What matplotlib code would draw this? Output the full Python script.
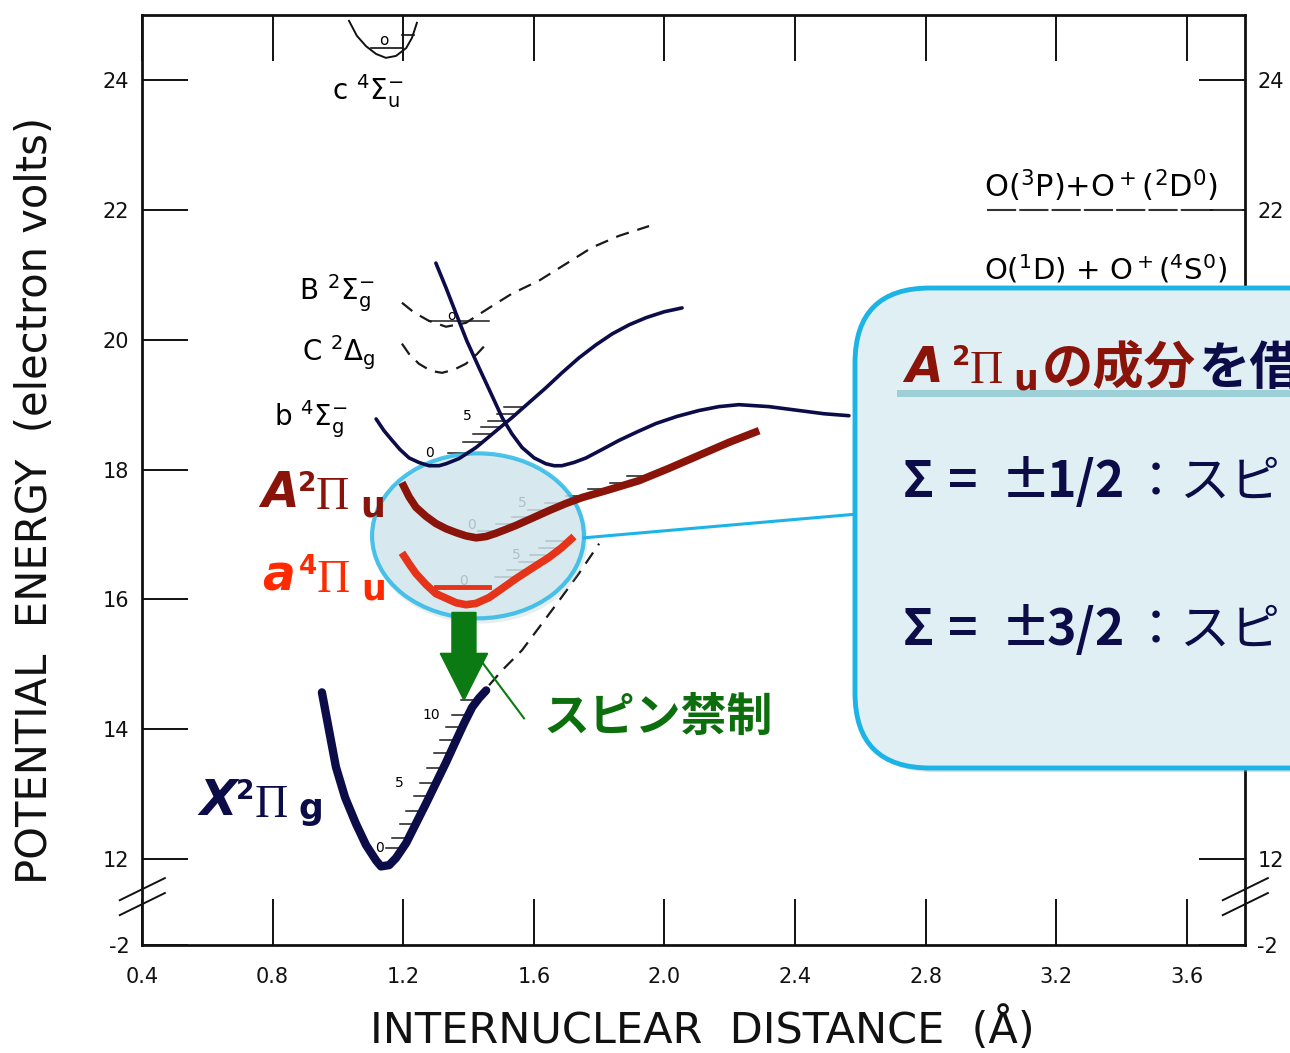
import numpy as np
import matplotlib.pyplot as plt
from matplotlib.patches import Ellipse, FancyBboxPatch, FancyArrow
from matplotlib.transforms import IdentityTransform

# O2+ potential curves: internuclear distance (A) vs potential energy (eV)
x_X = [0.951, 0.973, 0.994, 1.022, 1.055, 1.086, 1.117, 1.132, 1.157, 1.178,
       1.209, 1.239, 1.270, 1.300, 1.331, 1.362, 1.386, 1.411, 1.432, 1.454]
y_X = [14.57, 13.98, 13.42, 12.95, 12.55, 12.22, 11.98, 11.89, 11.91, 12.02,
       12.25, 12.55, 12.86, 13.17, 13.49, 13.83, 14.09, 14.34, 14.48, 14.60]

x_A = [1.196, 1.218, 1.239, 1.270, 1.300, 1.331, 1.362, 1.392, 1.423, 1.454, 1.484, 1.515,
       1.545, 1.594, 1.647, 1.699, 1.748, 1.830, 1.922, 2.014, 2.106, 2.198, 2.290]
y_A = [17.80, 17.58, 17.42, 17.28, 17.17, 17.09, 17.03, 16.98, 16.95, 16.97, 17.02, 17.08,
       17.14, 17.25, 17.37, 17.48, 17.57, 17.69, 17.83, 18.02, 18.22, 18.42, 18.60]

x_a = [1.196, 1.218, 1.239, 1.270, 1.300, 1.331, 1.362, 1.392, 1.423, 1.463, 1.503,
       1.545, 1.594, 1.647, 1.686, 1.723]
y_a = [16.72, 16.55, 16.40, 16.23, 16.09, 16.02, 15.95, 15.92, 15.94, 16.03, 16.17,
       16.32, 16.48, 16.65, 16.80, 16.97]

x_b = [1.117, 1.141, 1.166, 1.190, 1.218, 1.248, 1.279, 1.310, 1.331, 1.371, 1.423, 1.478,
       1.533, 1.585, 1.637, 1.686, 1.738, 1.790, 1.840, 1.892, 1.944, 1.999, 2.054]
y_b = [18.78, 18.60, 18.45, 18.31, 18.18, 18.11, 18.06, 18.06, 18.09, 18.17, 18.34, 18.57,
       18.80, 19.03, 19.26, 19.49, 19.72, 19.92, 20.09, 20.23, 20.34, 20.43, 20.49]

x_q = [1.300, 1.331, 1.362, 1.395, 1.432, 1.469, 1.503, 1.533, 1.564, 1.601, 1.637, 1.662,
       1.686, 1.723, 1.760, 1.809, 1.861, 1.916, 1.974, 2.039, 2.106, 2.167, 2.228, 2.320,
       2.412, 2.489, 2.565]
y_q = [21.18, 20.80, 20.40, 19.98, 19.57, 19.17, 18.80, 18.55, 18.34, 18.18, 18.09, 18.06,
       18.06, 18.11, 18.18, 18.31, 18.45, 18.58, 18.71, 18.82, 18.91, 18.97, 19.00, 18.97,
       18.91, 18.86, 18.83]

x_B = [1.196, 1.233, 1.279, 1.331, 1.392, 1.463, 1.533, 1.616, 1.699, 1.778, 1.861, 1.953]
y_B = [20.57, 20.42, 20.29, 20.20, 20.26, 20.49, 20.71, 20.91, 21.17, 21.42, 21.60, 21.75]

x_C = [1.196, 1.218, 1.248, 1.285, 1.319, 1.356, 1.392, 1.426, 1.463]
y_C = [19.94, 19.78, 19.63, 19.52, 19.49, 19.54, 19.63, 19.78, 19.98]

x_Xout = [1.463, 1.503, 1.564, 1.625, 1.677, 1.738, 1.800]
y_Xout = [14.68, 14.91, 15.22, 15.63, 15.98, 16.40, 16.86]

x_c = [1.034, 1.058, 1.086, 1.117, 1.147, 1.178, 1.209, 1.227, 1.242]
y_c = [24.91, 24.68, 24.52, 24.40, 24.34, 24.37, 24.49, 24.65, 24.88]

# vibrational levels (eV)
lev_X = [12.17, 12.32, 12.55, 12.75, 12.98, 13.18, 13.40, 13.63, 13.83, 14.03, 14.22, 14.45]
lev_b = [18.26, 18.42, 18.55, 18.65, 18.75, 18.86, 18.96]
lev_A = [17.05, 17.16, 17.27, 17.38, 17.49, 17.60, 17.70, 17.80, 17.90]
lev_a = [16.34, 16.46, 16.58, 16.69, 16.80, 16.90]
a_v0 = 16.20
B_v0 = 20.29
c_v0 = 24.49

# dissociation limit
limit_E = 22.0

x_ticks = [0.4, 0.8, 1.2, 1.6, 2.0, 2.4, 2.8, 3.2, 3.6]
x_tick_labels = ['0.4', '0.8', '1.2', '1.6', '2.0', '2.4', '2.8', '3.2', '3.6']
y_ticks = [12, 14, 16, 18, 20, 22, 24]
y_bottom = 10.68   # broken axis: the floor is -2 eV
y_bottom_label = '-2'
right_hidden = [14, 16, 18, 20]   # right-hand labels that sit under the note box

SCAN = ['DejaVu Sans']
JP = ['Noto Sans CJK JP', 'DejaVu Sans']
NAVY = '#0c0c48'
DARKRED = '#8a1409'
RED = '#e5341a'
GREEN = '#0b7a12'
CYAN = '#1cb4e6'
W, H = 1290, 1053


def fx(px):
    return px / W


def fy(py):
    return 1 - py / H


def draw_levels(ax, x, y, energies, length):
    i = int(np.argmin(y))
    ends = np.interp(energies, y[i:], x[i:])
    for e, x1 in zip(energies, ends):
        ax.plot([x1 - length, x1], [e, e], color='#1a1a1a', lw=1.1, zorder=2)


def term_label(ax, x, y, letter, mult, sym, sub, color, sub_dy=-9):
    # state term symbol built from pieces, offsets in pixels from the letter baseline
    parts = [
        (letter, (0, 0), dict(fontsize=35, fontweight='bold', fontstyle='italic',
                              family=['DejaVu Sans'])),
        (mult, (37, 16), dict(fontsize=19, fontweight='bold', family=['DejaVu Sans'])),
        (sym, (55, -2), dict(fontsize=33, family=['Liberation Serif'])),
        (sub, (99, sub_dy), dict(fontsize=25, fontweight='bold', family=['DejaVu Sans'])),
    ]
    for s, off, kw in parts:
        ax.annotate(s, (x, y), xytext=off, textcoords='offset pixels', ha='left',
                    va='baseline', color=color, zorder=6, annotation_clip=False, **kw)


def main():
    plt.rcParams['font.family'] = SCAN
    plt.rcParams['mathtext.fontset'] = 'dejavusans'

    fig = plt.figure(figsize=(12.9, 10.53), dpi=100)
    ax = fig.add_axes([fx(142), fy(945), (1245 - 142) / W, (945 - 15) / H])
    ax.set_xlim(0.4, 3.778)
    ax.set_ylim(y_bottom, 25.0)

    for sp in ax.spines.values():
        sp.set_linewidth(2.0)
        sp.set_color('#111111')
    ax.set_xticks(x_ticks)
    ax.set_xticklabels(x_tick_labels)
    ax.set_yticks([y_bottom] + y_ticks)
    ax.set_yticklabels([y_bottom_label] + [str(v) for v in y_ticks])
    ax.tick_params(direction='in', length=33, width=1.4, top=True, right=True,
                   labelright=True, labelsize=15, colors='#111111')
    ax.tick_params(axis='x', pad=16)
    ax.tick_params(axis='y', pad=9)
    for val, tick in zip([y_bottom] + y_ticks, ax.yaxis.get_major_ticks()):
        if val in right_hidden:
            tick.label2.set_visible(False)

    # axis break marks
    for xc in (0.4, 3.778):
        for dy in (0.0, -0.23):
            ax.plot([xc - 0.068, xc + 0.07], [11.37 + dy, 11.71 + dy], color='#111111',
                    lw=1.4, clip_on=False, zorder=3)

    # original scanned curves
    ax.plot(x_c, y_c, color='#111111', lw=1.4, zorder=2)
    ax.plot([1.101, 1.196], [c_v0, c_v0], color='#111111', lw=1.2, zorder=2)
    ax.plot([1.196, 1.233], [24.69, 24.69], color='#111111', lw=1.2, zorder=2)
    ax.text(1.141, 24.6, 'o', fontsize=11, ha='center', va='center')
    dash = (0, (6, 4))
    ax.plot(x_B, y_B, color='#1a1a1a', lw=1.6, ls=dash, zorder=2)
    ax.plot(x_C, y_C, color='#1a1a1a', lw=1.6, ls=dash, zorder=2)
    ax.plot(x_Xout, y_Xout, color='#1a1a1a', lw=1.6, ls=dash, zorder=2)
    ax.plot([1.279, 1.463], [B_v0, B_v0], color='#1a1a1a', lw=1.1, zorder=2)
    ax.text(1.349, 20.37, 'o', fontsize=10, ha='center', va='center')

    draw_levels(ax, np.array(x_X), np.array(y_X), lev_X, 0.05)
    draw_levels(ax, np.array(x_b), np.array(y_b), lev_b, 0.06)
    draw_levels(ax, np.array(x_A), np.array(y_A), lev_A, 0.07)
    draw_levels(ax, np.array(x_a), np.array(y_a), lev_a, 0.07)
    for (x, y, s) in [(1.126, 12.17, '0'), (1.187, 13.18, '5'), (1.285, 14.22, '10'),
                      (1.279, 18.26, '0'), (1.395, 18.82, '5'),
                      (1.408, 17.14, '0'), (1.564, 17.49, '5'),
                      (1.386, 16.28, '0'), (1.545, 16.69, '5')]:
        ax.text(x, y, s, fontsize=10, ha='center', va='center', zorder=2)

    ax.plot([2.988, 3.778], [limit_E, limit_E], color='#333333', lw=1.5,
            ls=(0, (14, 1.5)), zorder=2)
    ax.text(2.979, 22.37, r'O($^3$P)$+$O$^+$($^2$D$^0$)', fontsize=22, va='center')
    ax.text(2.979, 21.09, r'O($^1$D) + O$^+$($^4$S$^0$)', fontsize=21, va='center')

    ax.text(0.881, 20.71, r'B $^{2}\Sigma_{\mathrm{g}}^{-}$', fontsize=20, va='center')
    ax.text(0.890, 19.80, r'C $^{2}\Delta_{\mathrm{g}}$', fontsize=20, va='center')
    ax.text(0.804, 18.78, r'b $^{4}\Sigma_{\mathrm{g}}^{-}$', fontsize=20, va='center')
    ax.text(0.982, 23.83, r'c $^{4}\Sigma_{\mathrm{u}}^{-}$', fontsize=20, va='center')

    # highlight ellipse around the A and a wells
    ax.add_patch(Ellipse((1.435, 16.92), 0.66, 2.58, facecolor='#aab8bf', alpha=0.25,
                         edgecolor='none', zorder=3))
    ax.add_patch(Ellipse((1.429, 16.98), 0.649, 2.54, facecolor='#d3e8f0', alpha=0.78,
                         edgecolor=CYAN, lw=3, zorder=3))
    ax.plot([1.754, 2.60], [16.95, 17.32], color=CYAN, lw=2.2, zorder=3)

    # overlaid curves
    ax.plot(x_b, y_b, color=NAVY, lw=2.6, zorder=4, solid_capstyle='round')
    ax.plot(x_q, y_q, color=NAVY, lw=2.6, zorder=4, solid_capstyle='round')
    ax.plot(x_X, y_X, color=NAVY, lw=6, zorder=4, solid_capstyle='round',
            solid_joinstyle='round')
    ax.plot(x_A, y_A, color=DARKRED, lw=5.5, zorder=4, solid_capstyle='butt',
            solid_joinstyle='round')
    ax.plot(x_a, y_a, color=RED, lw=5.5, zorder=4, solid_capstyle='butt',
            solid_joinstyle='round')
    ax.plot([1.300, 1.463], [a_v0, a_v0], color=RED, lw=3.5, zorder=4)

    # spin-forbidden transition arrow
    ax.add_patch(FancyArrow(1.386, 15.80, 0, -1.35, width=0.0735, head_width=0.145,
                            head_length=0.72, length_includes_head=True,
                            color=GREEN, zorder=5))
    ax.plot([1.426, 1.570], [15.14, 14.17], color=GREEN, lw=1.5, zorder=5)
    ax.text(1.631, 14.17, 'スピン禁制', family=JP, fontweight='bold', fontsize=33,
            color='#0d6e0d', va='center', zorder=6)

    term_label(ax, 0.764, 17.42, 'A', '2', 'Π', 'u', DARKRED)
    term_label(ax, 0.767, 16.14, 'a', '4', 'Π', 'u', '#ff2a00')
    term_label(ax, 0.575, 12.68, 'X', '2', 'Π', 'g', NAVY, sub_dy=-4)

    # axis titles
    fig.text(fx(35), fy(500), 'POTENTIAL  ENERGY  (electron volts)', rotation=90,
             fontsize=30, ha='center', va='center', color='#111111')
    fig.text(fx(702), fy(1030), 'INTERNUCLEAR  DISTANCE  (Å)', fontsize=31,
             ha='center', va='center', color='#111111')

    # note box
    fig.add_artist(FancyBboxPatch((859, H - 772), 600, 480,
                                  boxstyle='round,pad=0,rounding_size=75',
                                  transform=IdentityTransform(), facecolor='#9aa4a8',
                                  edgecolor='none', alpha=0.35, zorder=5))
    fig.add_artist(FancyBboxPatch((855, H - 768), 600, 480,
                                  boxstyle='round,pad=0,rounding_size=75',
                                  transform=IdentityTransform(), facecolor='#e0eff4',
                                  edgecolor=CYAN, lw=3.5, zorder=5))
    fig.add_artist(plt.Line2D([fx(900), fx(1300)], [fy(393), fy(393)], color='#9ccfd6',
                              lw=5, zorder=6))

    title = [('A', 905, 382, dict(fontsize=35, fontweight='bold', fontstyle='italic',
                                   family=['DejaVu Sans'], color=DARKRED)),
             ('2', 952, 365, dict(fontsize=19, fontweight='bold', family=['DejaVu Sans'],
                                   color=DARKRED)),
             ('Π', 970, 383, dict(fontsize=33, family=['Liberation Serif'], color=DARKRED)),
             ('u', 1013, 389, dict(fontsize=25, fontweight='bold', family=['DejaVu Sans'],
                                   color=DARKRED)),
             ('の成分', 1042, 384, dict(fontsize=37, fontweight='bold', family=JP,
                                      color=DARKRED)),
             ('を借', 1198, 384, dict(fontsize=37, fontweight='bold', family=JP,
                                     color=NAVY))]
    for s, px, py, kw in title:
        fig.text(fx(px), fy(py), s, ha='left', va='baseline', zorder=7, **kw)

    for base, frac in [(497, '1/2'), (645, '3/2')]:
        for s, px in [('Σ', 903), ('=', 948), ('±', 1001), (frac, 1047)]:
            fig.text(fx(px), fy(base), s, ha='left', va='baseline', fontsize=36,
                     fontweight='bold', family=JP, color=NAVY, zorder=7)
        fig.text(fx(1131), fy(base), '：スピ', ha='left', va='baseline', fontsize=36,
                 family=JP, color=NAVY, zorder=7)

    fig.savefig('out.png', dpi=100)


if __name__ == '__main__':
    main()
